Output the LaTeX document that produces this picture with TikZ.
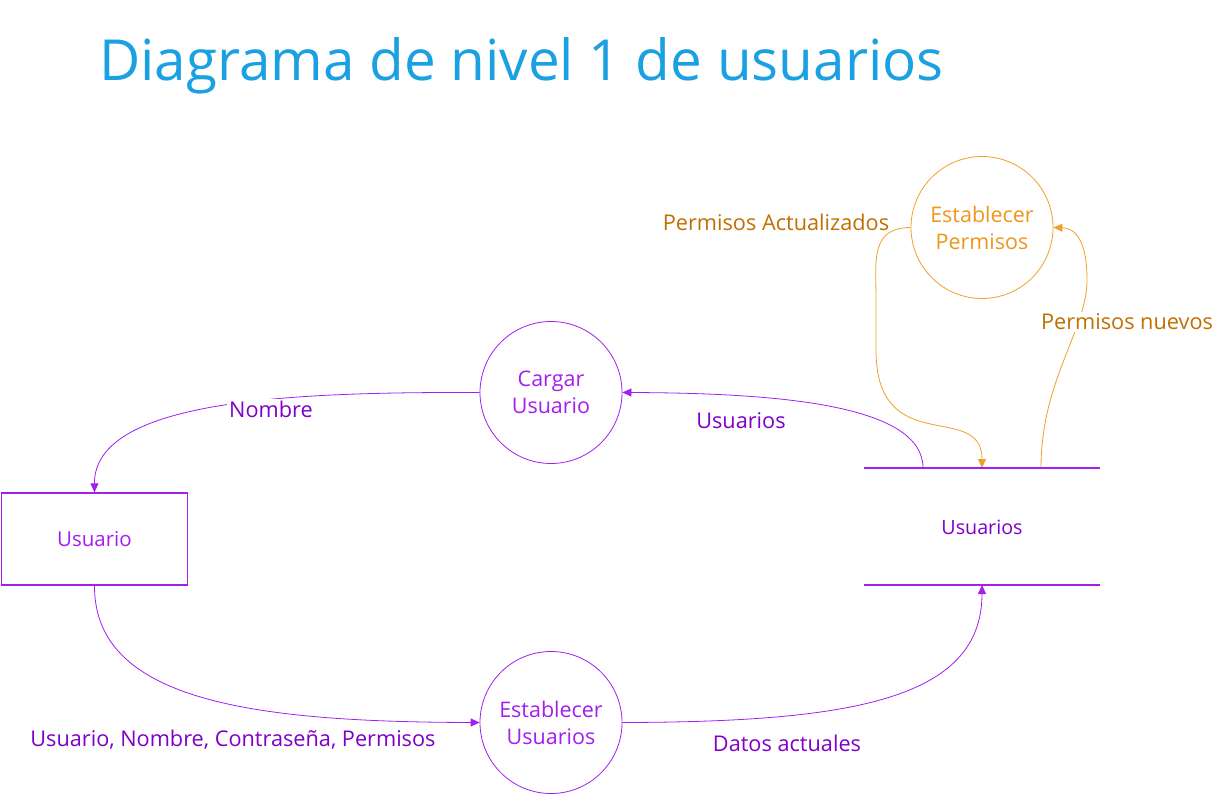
\documentclass[tikz,border=0pt]{standalone}
\usepackage{fontspec}
\setmainfont{Open Sans}
\usetikzlibrary{arrows.meta}
\definecolor{lpurple}{RGB}{160,32,240}
\definecolor{tpurple}{RGB}{164,30,240}
\definecolor{dpurple}{RGB}{128,0,200}
\definecolor{lorange}{RGB}{240,160,40}
\definecolor{torange}{RGB}{240,150,30}
\definecolor{dorange}{RGB}{192,112,0}
\definecolor{titleblue}{RGB}{27,161,226}
\tikzset{
  proc/.style={circle, draw=lpurple, line width=0.8pt, minimum size=142pt, inner sep=0pt, align=center, text=tpurple, font=\fontsize{21.5}{27}\selectfont},
  oproc/.style={proc, draw=lorange, text=torange},
  extbox/.style={rectangle, draw=lpurple, line width=1.3pt, minimum width=186pt, minimum height=92pt, inner sep=0pt, text=tpurple, font=\fontsize{20.5}{24}\selectfont},
  storetext/.style={text=dpurple, font=\fontsize{19.7}{24}\selectfont},
  storeline/.style={draw=lpurple, line width=1.2pt},
  pflow/.style={draw=lpurple, line width=0.8pt, -{Triangle[length=9pt,width=8pt]}},
  oflow/.style={draw=lorange, line width=0.8pt, -{Triangle[length=9pt,width=8pt]}},
  plabel/.style={text=dpurple, font=\fontsize{21.7}{26}\selectfont, inner sep=2pt},
  olabel/.style={text=dorange, font=\fontsize{21.7}{26}\selectfont, inner sep=2pt},
}
\begin{document}
\begin{tikzpicture}[x=1pt,y=-1pt]
\useasboundingbox[fill=white] (0,0) rectangle (1226,795);
% title
\node[anchor=base west, inner sep=0pt, text=titleblue, font=\fontsize{56.6}{60}\selectfont] (title) at (99,80) {Diagrama de nivel 1 de usuarios};
% processes
\node[oproc] (EP) at (982,227.5) {Establecer\\Permisos};
\node[proc] (CU) at (551,392.5) {Cargar\\Usuario};
\node[proc] (ES) at (551,722.5) {Establecer\\Usuarios};
% external entity
\node[extbox] (U) at (94.5,539) {Usuario};
% data store
\coordinate (s1) at (864,468);
\coordinate (s2) at (1100,468);
\coordinate (s3) at (864,585);
\coordinate (s4) at (1100,585);
\coordinate (sU) at (923,468);
\coordinate (sPA) at (982,468);
\coordinate (sPN) at (1041,468);
\coordinate (sDA) at (982,585);
\node[storetext] (S) at (982,527) {Usuarios};
% flows
\draw[pflow] (CU.west) .. controls (300,392) and (94,398) .. (U.north);
\node[plabel, fill=white] (lN) at (271,409) {Nombre};
\draw[pflow] (sU) .. controls (923,405) and (780,393) .. (CU.east);
\node[plabel] (lU) at (741,421) {Usuarios};
\draw[pflow] (U.south) .. controls (94,700) and (250,722) .. (ES.west);
\node[plabel] (lUN) at (233,740) {Usuario, Nombre, Contraseña, Permisos};
\draw[pflow] (ES.east) .. controls (850,722) and (982,700) .. (sDA);
\node[plabel] (lDA) at (787,743) {Datos actuales};
\draw[oflow] (EP.west) .. controls (870,228) and (876,260) .. (876,300) -- (876,350) .. controls (876,460) and (982,400) .. (sPA);
\node[olabel] (lPA) at (776,222) {Permisos Actualizados};
\draw[oflow] (sPN) .. controls (1041,380) and (1087,330) .. (1087,280) .. controls (1087,240) and (1075,228) .. (EP.east);
\node[olabel, fill=white] (lPN) at (1127,322) {Permisos nuevos};
% store lines
\draw[storeline] (s1) -- (s2);
\draw[storeline] (s3) -- (s4);
\end{tikzpicture}
\end{document}
